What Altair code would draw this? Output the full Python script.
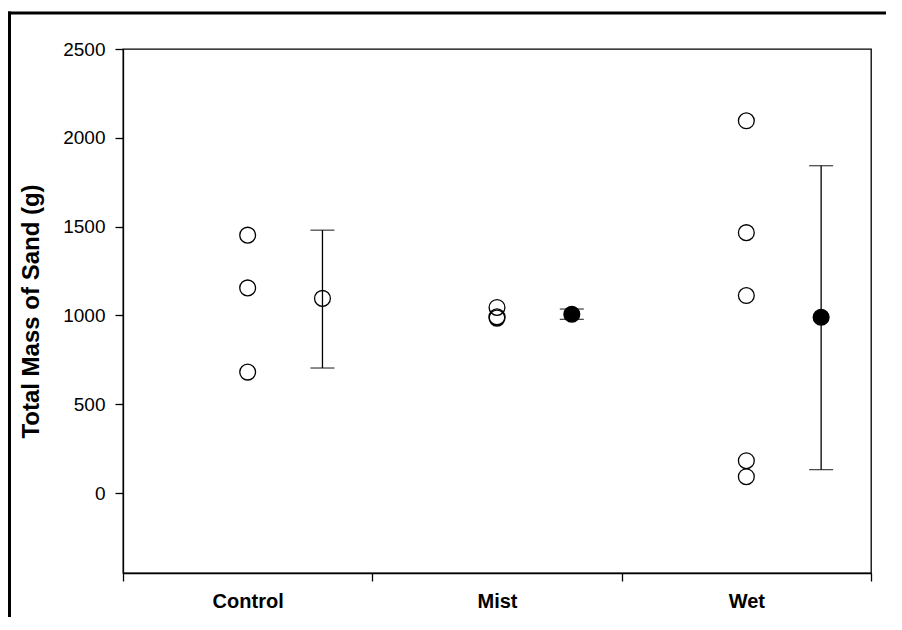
import altair as alt
import pandas as pd

categories = ["Control", "Mist", "Wet"]

raw_group = ["Control", "Control", "Control",
             "Mist", "Mist", "Mist",
             "Wet", "Wet", "Wet", "Wet", "Wet"]
raw_value = [1452, 1155, 681,
             1045, 992, 985,
             2096, 1466, 1112, 182, 92]

# group summaries (mean with error bars)
mean_value = [1096, 1007, 990]
err_low = [704, 978, 132]
err_high = [1480, 1036, 1843]
mean_kind = ["open", "filled", "filled"]

RAW_OFFSET = 0.5
MEAN_OFFSET = 0.8

idx = {c: i for i, c in enumerate(categories)}
raw_df = pd.DataFrame({"group": raw_group, "value": raw_value})
raw_df["x"] = raw_df["group"].map(idx) + RAW_OFFSET

mean_df = pd.DataFrame({"group": categories, "mean": mean_value,
                        "lo": err_low, "hi": err_high, "kind": mean_kind})
mean_df["x"] = mean_df["group"].map(idx) + MEAN_OFFSET

label_expr = ("datum.value == 0.5 ? 'Control' : datum.value == 1.5 ? 'Mist' : "
              "datum.value == 2.5 ? 'Wet' : ''")

xscale = alt.Scale(domain=[0, 3], nice=False, zero=False)
yscale = alt.Scale(domain=[-450, 2500], nice=False, zero=False)

xaxis = alt.Axis(values=[0, 0.5, 1, 1.5, 2, 2.5, 3], labelExpr=label_expr,
                 title=None, grid=False, tickSize=8, tickColor="black",
                 tickWidth=1.3,
                 tickOpacity={"condition": {"test": "datum.value % 1 != 0", "value": 0}, "value": 1},
                 labelFont="Liberation Sans", labelFontSize=20, labelFontWeight="bold",
                 labelColor="black", labelPadding=10, labelOverlap=False,
                 labelFlush=False, domainColor="black", domainWidth=1.3)
yaxis = alt.Axis(values=[0, 500, 1000, 1500, 2000, 2500], format="d",
                 title="Total Mass of Sand (g)",
                 grid=False, tickSize=8, tickColor="black", tickWidth=1.3,
                 labelFont="Liberation Sans", labelFontSize=19, labelColor="black",
                 labelPadding=10, domainColor="black", domainWidth=1.3,
                 titleFont="Liberation Sans", titleFontSize=24, titleFontWeight="bold",
                 titleColor="black", titlePadding=19)

raw = alt.Chart(raw_df).mark_point(shape="circle", filled=False, color="black",
                                    size=250, strokeWidth=1.3, opacity=1).encode(
    x=alt.X("x:Q", scale=xscale, axis=xaxis),
    y=alt.Y("value:Q", scale=yscale, axis=yaxis),
)

bars = alt.Chart(mean_df).mark_rule(color="black", strokeWidth=1.3).encode(
    x=alt.X("x:Q", scale=xscale, axis=xaxis),
    y=alt.Y("lo:Q", scale=yscale, axis=yaxis),
    y2="hi:Q",
)
cap_lo = alt.Chart(mean_df).mark_tick(color="black", thickness=1.3, size=24,
                                       orient="horizontal").encode(
    x=alt.X("x:Q", scale=xscale, axis=xaxis), y=alt.Y("lo:Q", scale=yscale, axis=yaxis))
cap_hi = alt.Chart(mean_df).mark_tick(color="black", thickness=1.3, size=24,
                                       orient="horizontal").encode(
    x=alt.X("x:Q", scale=xscale, axis=xaxis), y=alt.Y("hi:Q", scale=yscale, axis=yaxis))

means = alt.Chart(mean_df).mark_point(shape="circle", size=250, strokeWidth=1.3,
                                       stroke="black", opacity=1).encode(
    x=alt.X("x:Q", scale=xscale, axis=xaxis),
    y=alt.Y("mean:Q", scale=yscale, axis=yaxis),
    fill=alt.Fill("kind:N", scale=alt.Scale(domain=["open", "filled"],
                                            range=["rgba(0,0,0,0)", "black"]),
                  legend=None),
)

frame_df = pd.DataFrame({"a": [0]})
frame_left = alt.Chart(frame_df).mark_rule(color="black", strokeWidth=3).encode(
    x=alt.value(-113.5), y=alt.value(-37.5), y2=alt.value(580))
frame_top = alt.Chart(frame_df).mark_rule(color="black", strokeWidth=3).encode(
    x=alt.value(-115), x2=alt.value(780), y=alt.value(-36))

chart = alt.layer(frame_left, frame_top, raw, bars, cap_lo, cap_hi, means).properties(
    width=748, height=524,
    background="white",
    autosize=alt.AutoSizeParams(type="none"),
    padding={"left": 115, "top": 41, "right": 15, "bottom": 44},
).configure_view(stroke="black", strokeWidth=1.3)

chart.save("out.html", embed_options={"renderer": "svg", "actions": False})
